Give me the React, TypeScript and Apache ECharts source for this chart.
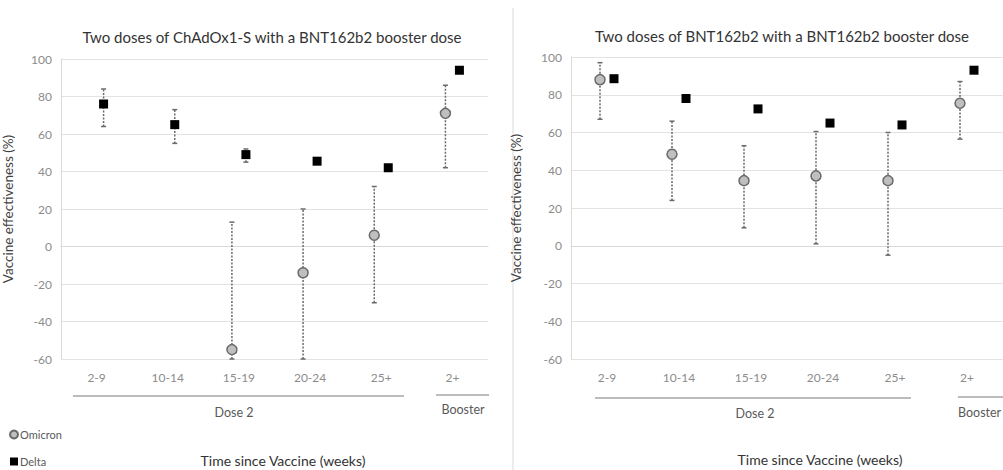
import React, { useEffect, useRef } from 'react';
import * as echarts from 'echarts';

const categories = ['2-9', '10-14', '15-19', '20-24', '25+', '2+'];

// Left panel: Two doses of ChAdOx1-S with a BNT162b2 booster dose
const leftOmicron = [null, null, -55, -14, 6, 71];
const leftOmicronLow = [null, null, -60, -60, -30, 42];
const leftOmicronHigh = [null, null, 13, 20, 32, 86];
const leftDelta = [76, 65, 49, 45.5, 42, 94];
const leftDeltaLow = [64, 55, 45, null, null, null];
const leftDeltaHigh = [84, 73, 52, null, null, null];

// Right panel: Two doses of BNT162b2 with a BNT162b2 booster dose
const rightOmicron = [88, 48.5, 34.5, 37, 34.5, 75.5];
const rightOmicronLow = [67, 24, 9.5, 1, -5, 56.5];
const rightOmicronHigh = [97, 66, 53, 60.5, 60, 87];
const rightDelta = [88.5, 78, 72.5, 65, 64, 93];

const groupLabels = ['Dose 2', 'Booster'];
const FONT = 'Lato, "Open Sans", sans-serif';
const OFFSET = 7;

function scatterData(vals: (number | null)[]) {
  return vals.map((v, i) => (v === null ? [i, '-'] : [i, v]));
}

function errData(lo: (number | null)[], hi: (number | null)[], off: number) {
  const out: any[] = [];
  lo.forEach((l, i) => {
    const h = hi[i];
    if (l !== null && h !== null) out.push([i, l, h, off]);
  });
  return out;
}

const renderErr = (params: any, api: any) => {
  const x = api.value(0);
  const lo = api.value(1);
  const hi = api.value(2);
  const off = api.value(3);
  const p1 = api.coord([x, lo]);
  const p2 = api.coord([x, hi]);
  const cx = p1[0] + off;
  const stroke = '#6a6a6a';
  return {
    type: 'group',
    children: [
      { type: 'line', shape: { x1: cx, y1: p1[1], x2: cx, y2: p2[1] }, style: { stroke, lineWidth: 1.5, lineDash: [2, 1.5] } },
      { type: 'line', shape: { x1: cx - 2.5, y1: p1[1], x2: cx + 2.5, y2: p1[1] }, style: { stroke, lineWidth: 1.5 } },
      { type: 'line', shape: { x1: cx - 2.5, y1: p2[1], x2: cx + 2.5, y2: p2[1] }, style: { stroke, lineWidth: 1.5 } },
    ],
  };
};

export default function App() {
  const ref = useRef<HTMLDivElement>(null);
  useEffect(() => {
    if (!ref.current) return;
    const chart = echarts.init(ref.current, null, { renderer: 'svg' });
    const xAxisBase = {
      type: 'category',
      data: categories,
      axisLine: { lineStyle: { color: '#d9d9d9', width: 1 } },
      axisTick: { show: false },
      axisLabel: { color: '#8c8c8c', fontSize: 12, fontFamily: FONT, margin: 12 },
      splitLine: { show: false },
    };
    const yAxisBase = {
      type: 'value',
      min: -60,
      max: 100,
      interval: 20,
      name: 'Vaccine effectiveness (%)',
      nameLocation: 'middle',
      nameTextStyle: { color: '#404040', fontSize: 13.5, fontFamily: FONT },
      axisLine: { show: true, lineStyle: { color: '#d9d9d9' } },
      axisTick: { show: false },
      axisLabel: { color: '#8c8c8c', fontSize: 12, fontFamily: FONT, margin: 9 },
      splitLine: { lineStyle: { color: '#e3e3e3', width: 1 } },
    };
    const omicronStyle = { color: '#bfbfbf', borderColor: '#6a6a6a', borderWidth: 1.5, opacity: 1 };
    const deltaStyle = { color: '#000000', opacity: 1 };
    const titleStyle = { fill: '#333333', fontSize: 15, fontFamily: FONT };
    const axisTitleStyle = { fill: '#333333', fontSize: 14, fontFamily: FONT };
    const smallText = { fill: '#595959', fontSize: 12.5, fontFamily: FONT };

    chart.setOption({
      animation: false,
      grid: [
        { left: 60, top: 59, width: 428, height: 300 },
        { left: 571, top: 57, width: 432, height: 302 },
      ],
      xAxis: [
        { ...xAxisBase, gridIndex: 0 },
        { ...xAxisBase, gridIndex: 1 },
      ],
      yAxis: [
        { ...yAxisBase, gridIndex: 0, nameGap: 46 },
        { ...yAxisBase, gridIndex: 1, nameGap: 48 },
      ],
      legend: {
        data: [
          { name: 'Omicron', icon: 'circle' },
          { name: 'Delta', icon: 'rect' },
        ],
        orient: 'vertical',
        left: 9,
        top: 429,
        padding: 0,
        itemWidth: 8,
        itemHeight: 8,
        itemGap: 16,
        textStyle: { color: '#595959', fontSize: 11, fontFamily: FONT, padding: [0, 0, 0, -3] },
      },
      series: [
        { type: 'custom', xAxisIndex: 0, yAxisIndex: 0, renderItem: renderErr, encode: { x: 0, y: [1, 2] }, data: errData(leftOmicronLow, leftOmicronHigh, -OFFSET), z: 1 },
        { type: 'custom', xAxisIndex: 0, yAxisIndex: 0, renderItem: renderErr, encode: { x: 0, y: [1, 2] }, data: errData(leftDeltaLow, leftDeltaHigh, OFFSET), z: 1 },
        { type: 'custom', xAxisIndex: 1, yAxisIndex: 1, renderItem: renderErr, encode: { x: 0, y: [1, 2] }, data: errData(rightOmicronLow, rightOmicronHigh, -OFFSET), z: 1 },
        { name: 'Omicron', type: 'scatter', xAxisIndex: 0, yAxisIndex: 0, symbol: 'circle', symbolSize: 10, symbolOffset: [-OFFSET, 0], itemStyle: omicronStyle, data: scatterData(leftOmicron), z: 3 },
        { name: 'Delta', type: 'scatter', xAxisIndex: 0, yAxisIndex: 0, symbol: 'rect', symbolSize: 9, symbolOffset: [OFFSET, 0], itemStyle: deltaStyle, data: scatterData(leftDelta), z: 3 },
        { name: 'Omicron', type: 'scatter', xAxisIndex: 1, yAxisIndex: 1, symbol: 'circle', symbolSize: 10, symbolOffset: [-OFFSET, 0], itemStyle: omicronStyle, data: scatterData(rightOmicron), z: 3 },
        { name: 'Delta', type: 'scatter', xAxisIndex: 1, yAxisIndex: 1, symbol: 'rect', symbolSize: 9, symbolOffset: [OFFSET, 0], itemStyle: deltaStyle, data: scatterData(rightDelta), z: 3 },
      ],
      graphic: [
        { type: 'line', shape: { x1: 513, y1: 8, x2: 513, y2: 470 }, style: { stroke: '#d9d9d9', lineWidth: 1 } },
        { type: 'text', x: 272, y: 37, style: { ...titleStyle, text: 'Two doses of ChAdOx1-S with a BNT162b2 booster dose', align: 'center', verticalAlign: 'middle' } },
        { type: 'text', x: 782, y: 36, style: { ...titleStyle, text: 'Two doses of BNT162b2 with a BNT162b2 booster dose', align: 'center', verticalAlign: 'middle' } },
        { type: 'line', shape: { x1: 73, y1: 396, x2: 404, y2: 396 }, style: { stroke: '#a6a6a6', lineWidth: 1.5 } },
        { type: 'line', shape: { x1: 436, y1: 395, x2: 489, y2: 395 }, style: { stroke: '#a6a6a6', lineWidth: 1.5 } },
        { type: 'text', x: 234, y: 412, style: { ...smallText, text: groupLabels[0], align: 'center', verticalAlign: 'middle' } },
        { type: 'text', x: 463, y: 409, style: { ...smallText, text: groupLabels[1], align: 'center', verticalAlign: 'middle' } },
        { type: 'line', shape: { x1: 595, y1: 398, x2: 911, y2: 398 }, style: { stroke: '#a6a6a6', lineWidth: 1.5 } },
        { type: 'line', shape: { x1: 958, y1: 397, x2: 1003, y2: 397 }, style: { stroke: '#a6a6a6', lineWidth: 1.5 } },
        { type: 'text', x: 755, y: 413, style: { ...smallText, text: groupLabels[0], align: 'center', verticalAlign: 'middle' } },
        { type: 'text', x: 958, y: 412, style: { ...smallText, text: groupLabels[1], align: 'left', verticalAlign: 'middle' } },
        { type: 'text', x: 283, y: 460, style: { ...axisTitleStyle, text: 'Time since Vaccine (weeks)', align: 'center', verticalAlign: 'middle' } },
        { type: 'text', x: 820, y: 459, style: { ...axisTitleStyle, text: 'Time since Vaccine (weeks)', align: 'center', verticalAlign: 'middle' } },
      ],
    });
    return () => chart.dispose();
  }, []);
  return <div ref={ref} style={{ width: 1003, height: 470, position: 'absolute', left: 0, top: 0, background: '#fff' }} />;
}
